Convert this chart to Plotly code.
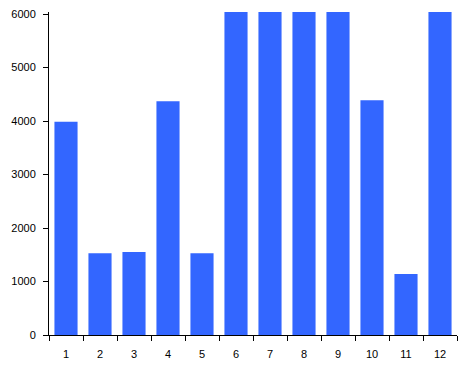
import plotly.graph_objects as go

categories = [str(i) for i in range(1, 13)]
values = [3990, 1530, 1550, 4370, 1530, 6100, 6100, 6100, 6100, 4390, 1140, 6100]
y_ticks = [0, 1000, 2000, 3000, 4000, 5000, 6000]

fig = go.Figure(go.Bar(
    x=categories, y=values, marker=dict(color="#3366FF", line=dict(width=0)),
    width=0.68,
))
fig.update_layout(
    width=463, height=367, margin=dict(l=49, r=6, t=12, b=32),
    paper_bgcolor="white", plot_bgcolor="white", showlegend=False,
    font=dict(family="Liberation Sans, Arial", size=11, color="black"),
)
fig.update_xaxes(type="category", tickson="boundaries", ticks="outside", ticklen=5,
                 tickcolor="black", showline=True, linecolor="black", linewidth=1,
                 showgrid=False, zeroline=False, ticklabelstandoff=9)
fig.update_yaxes(range=[0, 6040], tickvals=y_ticks, ticks="outside", ticklen=5,
                 tickcolor="black", showline=True, linecolor="black", linewidth=1,
                 showgrid=False, zeroline=False, ticklabelstandoff=5)
fig.write_html("out.html")
